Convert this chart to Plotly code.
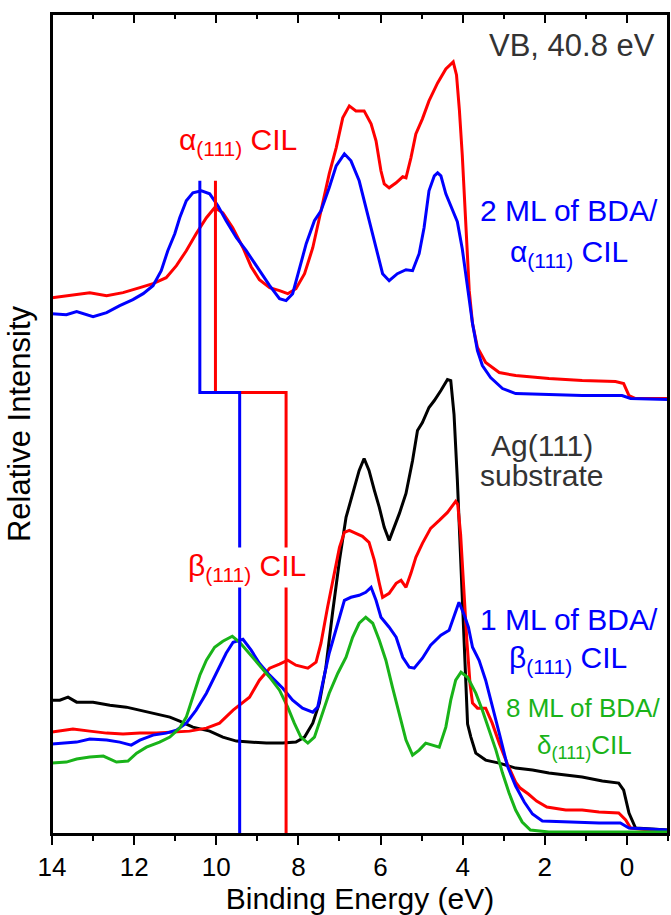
import plotly.graph_objects as go

# ---------------- data (binding energy in eV, relative intensity in a.u.) ----------------
alpha_cil_e = [14.0, 13.49, 13.08, 12.67, 12.27, 11.86, 11.54, 11.22, 10.97, 10.73, 10.49, 10.24, 10.04,
               9.84, 9.60, 9.35, 9.15, 8.95, 8.70, 8.46, 8.26, 8.06, 7.85, 7.65, 7.45, 7.25, 7.08, 6.92,
               6.76, 6.60, 6.40, 6.23, 6.11, 5.99, 5.91, 5.79, 5.62, 5.46, 5.38, 5.26, 5.14, 4.98, 4.82,
               4.61, 4.41, 4.23, 4.15, 4.08, 4.01, 3.94, 3.88, 3.84, 3.76, 3.64, 3.44, 3.11, 2.71, 1.90,
               1.09, 0.28, 0.08, -0.05, -0.21, -1.0]
alpha_cil_i = [5.37, 5.40, 5.42, 5.39, 5.42, 5.47, 5.51, 5.57, 5.69, 5.84, 6.01, 6.17, 6.27,
               6.22, 6.07, 5.87, 5.68, 5.55, 5.47, 5.44, 5.41, 5.46, 5.61, 5.87, 6.24, 6.61, 6.87, 7.17,
               7.29, 7.24, 7.24, 7.11, 6.94, 6.64, 6.51, 6.47, 6.52, 6.58, 6.57, 6.77, 7.01, 7.16, 7.34,
               7.52, 7.66, 7.73, 7.60, 7.25, 6.80, 6.25, 5.70, 5.44, 5.11, 4.87, 4.72, 4.62, 4.59, 4.56,
               4.54, 4.53, 4.51, 4.39, 4.36, 4.36]

bda2_alpha_e = [14.0, 13.65, 13.40, 13.0, 12.67, 12.35, 12.03, 11.78, 11.54, 11.34, 11.18, 11.01, 10.89,
                10.73, 10.57, 10.36, 10.16, 9.96, 9.76, 9.51, 9.27, 9.05, 8.95, 8.70, 8.46, 8.30, 8.14,
                7.98, 7.81, 7.61, 7.45, 7.25, 7.08, 6.88, 6.72, 6.52, 6.32, 6.11, 5.95, 5.79, 5.59, 5.38,
                5.22, 5.06, 4.94, 4.82, 4.69, 4.61, 4.53, 4.41, 4.25, 4.13, 4.01, 3.88, 3.76, 3.64, 3.52,
                3.32, 3.03, 2.71, 1.90, 1.09, 0.12, -0.09, -1.0]
bda2_alpha_i = [5.21, 5.20, 5.23, 5.18, 5.22, 5.29, 5.35, 5.41, 5.49, 5.64, 5.84, 6.01, 6.17,
                6.34, 6.42, 6.44, 6.41, 6.29, 6.14, 5.97, 5.84, 5.70, 5.64, 5.49, 5.36, 5.34, 5.41,
                5.64, 5.91, 6.14, 6.24, 6.47, 6.69, 6.81, 6.74, 6.54, 6.21, 5.87, 5.61, 5.54, 5.61, 5.65,
                5.64, 5.81, 6.07, 6.44, 6.59, 6.62, 6.59, 6.41, 6.24, 6.13, 5.86, 5.49, 5.11, 4.84, 4.69,
                4.57, 4.46, 4.41, 4.40, 4.39, 4.39, 4.36, 4.35]

ag111_e = [14.0, 13.81, 13.61, 13.40, 13.0, 12.59, 12.19, 11.86, 11.54, 11.13, 10.89, 10.57, 10.16, 9.84,
           9.51, 9.11, 8.78, 8.38, 8.06, 7.85, 7.65, 7.49, 7.33, 7.17, 7.00, 6.84, 6.68, 6.52, 6.40, 6.28,
           6.15, 6.03, 5.91, 5.79, 5.67, 5.54, 5.38, 5.22, 5.10, 4.98, 4.82, 4.69, 4.53, 4.37, 4.29, 4.21,
           4.13, 4.04, 3.96, 3.88, 3.80, 3.68, 3.44, 3.11, 2.71, 2.30, 1.90, 1.49, 1.09, 0.60, 0.20, 0.08,
           -0.05, -0.21, -1.0]
ag111_i = [1.34, 1.34, 1.37, 1.32, 1.32, 1.29, 1.27, 1.24, 1.21, 1.17, 1.13, 1.07, 1.03, 0.97,
           0.93, 0.92, 0.91, 0.91, 0.92, 0.97, 1.11, 1.31, 1.67, 2.21, 2.74, 3.17, 3.41, 3.64, 3.76, 3.64,
           3.44, 3.27, 3.07, 2.94, 3.07, 3.21, 3.41, 3.74, 4.04, 4.12, 4.27, 4.34, 4.44, 4.55, 4.54, 4.20,
           3.55, 2.65, 1.80, 1.10, 0.97, 0.81, 0.74, 0.71, 0.66, 0.64, 0.61, 0.59, 0.57, 0.53, 0.51, 0.44,
           0.21, 0.06, 0.04]

beta_cil_e = [14.0, 13.49, 13.08, 12.67, 12.27, 11.86, 11.46, 11.05, 10.65, 10.24, 9.92, 9.59, 9.35, 9.19,
              8.95, 8.70, 8.46, 8.26, 8.06, 7.77, 7.57, 7.45, 7.29, 7.12, 7.00, 6.88, 6.76, 6.60, 6.44,
              6.28, 6.15, 6.03, 5.95, 5.79, 5.62, 5.50, 5.38, 5.26, 5.14, 4.98, 4.78, 4.57, 4.37, 4.17,
              4.12, 4.05, 3.98, 3.90, 3.82, 3.76, 3.64, 3.44, 3.28, 3.11, 2.91, 2.71, 2.60, 2.40, 2.20,
              1.95, 1.49, 1.09, 0.68, 0.20, 0.03, -0.09, -0.54, -1.0]
beta_cil_i = [1.02, 1.05, 1.03, 1.01, 1.00, 1.01, 1.01, 1.02, 1.03, 1.06, 1.11, 1.24, 1.32, 1.37,
              1.54, 1.66, 1.70, 1.74, 1.69, 1.66, 1.72, 1.91, 2.27, 2.64, 2.87, 3.02, 3.04, 3.01, 2.98,
              2.92, 2.74, 2.51, 2.37, 2.41, 2.51, 2.54, 2.47, 2.61, 2.77, 2.91, 3.06, 3.14, 3.22, 3.33,
              3.30, 3.00, 2.50, 1.95, 1.50, 1.31, 1.26, 1.26, 1.11, 0.91, 0.70, 0.52, 0.46, 0.40, 0.33,
              0.27, 0.24, 0.24, 0.22, 0.21, 0.14, 0.06, 0.04, 0.03]

bda1_beta_e = [14.0, 13.65, 13.40, 13.08, 12.67, 12.35, 12.07, 11.86, 11.54, 11.22, 10.97, 10.73, 10.49,
               10.24, 10.00, 9.76, 9.59, 9.35, 9.15, 8.95, 8.70, 8.38, 8.14, 7.90, 7.65, 7.53, 7.41, 7.25,
               7.04, 6.88, 6.72, 6.52, 6.36, 6.23, 6.11, 5.99, 5.79, 5.62, 5.46, 5.30, 5.18, 4.98, 4.78,
               4.53, 4.33, 4.21, 4.09, 3.96, 3.86, 3.76, 3.60, 3.44, 3.28, 3.11, 2.91, 2.71, 2.50, 2.30,
               2.06, 1.49, 0.68, 0.16, -0.05, -1.0]
bda1_beta_i = [0.90, 0.91, 0.92, 0.95, 0.94, 0.92, 0.89, 0.94, 0.99, 1.01, 1.04, 1.11, 1.24,
               1.41, 1.61, 1.81, 1.92, 1.95, 1.84, 1.71, 1.59, 1.46, 1.34, 1.26, 1.22, 1.27, 1.51, 1.81,
               2.11, 2.34, 2.37, 2.39, 2.42, 2.47, 2.34, 2.17, 2.07, 1.97, 1.77, 1.67, 1.66, 1.76, 1.89,
               1.99, 2.04, 2.19, 2.32, 2.19, 2.07, 1.87, 1.74, 1.54, 1.27, 1.01, 0.68, 0.48, 0.32, 0.20,
               0.13, 0.12, 0.11, 0.11, 0.06, 0.04]

bda8_delta_e = [14.0, 13.65, 13.40, 13.08, 12.75, 12.43, 12.15, 11.94, 11.70, 11.38, 11.13, 10.89, 10.73,
                10.57, 10.40, 10.24, 10.04, 9.84, 9.61, 9.43, 9.19, 8.95, 8.70, 8.46, 8.26, 8.10, 7.94,
                7.77, 7.61, 7.45, 7.25, 7.04, 6.84, 6.68, 6.52, 6.36, 6.19, 6.03, 5.87, 5.71, 5.54, 5.38,
                5.22, 5.06, 4.90, 4.74, 4.57, 4.41, 4.29, 4.17, 4.04, 3.88, 3.68, 3.52, 3.36, 3.19, 3.03,
                2.87, 2.71, 2.55, 2.35, 1.90, -1.0]
bda8_delta_i = [0.71, 0.72, 0.75, 0.77, 0.78, 0.72, 0.73, 0.81, 0.87, 0.92, 0.97, 1.06, 1.17,
                1.37, 1.59, 1.74, 1.87, 1.93, 1.98, 1.92, 1.80, 1.69, 1.57, 1.44, 1.27, 1.11, 0.97,
                0.91, 0.97, 1.17, 1.41, 1.61, 1.77, 1.97, 2.11, 2.17, 2.11, 1.94, 1.74, 1.47, 1.21, 0.94,
                0.79, 0.84, 0.91, 0.89, 0.87, 1.07, 1.34, 1.54, 1.62, 1.57, 1.41, 1.24, 1.04, 0.84, 0.61,
                0.41, 0.24, 0.12, 0.04, 0.02, 0.02]

# CIL position markers (step lines linking the two panels)
alpha_marker_e = [10.02, 10.02, 8.30, 8.30]
alpha_marker_i = [6.54, 4.42, 4.42, 0.0]
bda_marker_e = [10.40, 10.40, 9.43, 9.43]
bda_marker_i = [6.54, 4.42, 4.42, 0.0]

x_range = [14, -1]
y_range = [0, 8.21]
x_tickvals = [14, 12, 10, 8, 6, 4, 2, 0]

RED = "#ff0000"
BLUE = "#0000ff"
GREEN = "#19b319"
BLACK = "#000000"
FONT = "Liberation Sans, Arial, sans-serif"

fig = go.Figure()

def add_line(x, y, color, width=3, xaxis="x"):
    fig.add_trace(go.Scatter(x=x, y=y, mode="lines", line=dict(color=color, width=width),
                             xaxis=xaxis, showlegend=False, hoverinfo="skip"))

add_line(ag111_e, ag111_i, BLACK)
add_line(beta_cil_e, beta_cil_i, RED)
add_line(bda1_beta_e, bda1_beta_i, BLUE)
add_line(bda8_delta_e, bda8_delta_i, GREEN)
add_line(alpha_cil_e, alpha_cil_i, RED)
add_line(bda2_alpha_e, bda2_alpha_i, BLUE)
add_line(alpha_marker_e, alpha_marker_i, RED, xaxis="x2")
add_line(bda_marker_e, bda_marker_i, BLUE, xaxis="x2")

def ann(text, x, y, color, size, xanchor="center", bg=None):
    d = dict(text=text, x=x, y=y, xref="x", yref="y", showarrow=False,
             font=dict(family=FONT, size=size, color=color), xanchor=xanchor, yanchor="middle")
    if bg:
        d.update(bgcolor=bg, borderpad=1)
    fig.add_annotation(**d)

sub = "<sub>(111)</sub>"
ann("VB, 40.8 eV", -0.72, 7.89, "#333333", 31, xanchor="right")
ann("α" + sub + " CIL", 9.48, 6.93, RED, 30)
ann("2 ML of BDA/", 1.41, 6.245, BLUE, 30)
ann("α" + sub + " CIL", 1.40, 5.81, BLUE, 30)
ann("Ag(111)", 2.06, 3.89, "#333333", 30)
ann("substrate", 2.07, 3.59, "#333333", 30)
ann("β" + sub + " CIL", 9.26, 2.67, RED, 30, bg="white")
ann("1 ML of BDA/", 1.40, 2.15, BLUE, 30)
ann("β" + sub + " CIL", 1.44, 1.75, BLUE, 30)
ann("8 ML of BDA/", 1.06, 1.26, GREEN, 26)
ann("δ" + sub + "CIL", 1.04, 0.88, GREEN, 26)

# plot frame
fig.add_shape(type="rect", xref="paper", yref="paper", x0=0, x1=1, y0=0, y1=1,
              line=dict(color="black", width=2), layer="above")

fig.update_layout(
    width=671, height=915,
    margin=dict(l=52, r=3, t=14, b=81),
    paper_bgcolor="white", plot_bgcolor="white",
    font=dict(family=FONT, color="black"),
    xaxis=dict(range=x_range, tickvals=x_tickvals, ticks="outside", ticklen=9, tickwidth=1.5,
               tickcolor="black", showline=True, linecolor="black", linewidth=1.5, mirror=True,
               showgrid=False, zeroline=False, tickfont=dict(size=26, family=FONT), automargin=False,
               minor=dict(dtick=1, tick0=0, ticks="outside", ticklen=5, tickwidth=1.5, tickcolor="black",
                          showgrid=False),
               title=dict(text="Binding Energy (eV)", font=dict(size=30, family=FONT), standoff=4)),
    xaxis2=dict(range=x_range, overlaying="x", anchor="y", side="top", tickvals=x_tickvals,
                ticks="inside", ticklen=9, tickwidth=2, tickcolor="black", showticklabels=False,
                showgrid=False, zeroline=False, showline=True, linecolor="black", linewidth=2,
                automargin=False,
                minor=dict(dtick=1, tick0=0, ticks="inside", ticklen=5, tickwidth=2, tickcolor="black",
                           showgrid=False)),
    yaxis=dict(range=y_range, showticklabels=False, ticks="", showgrid=False, zeroline=False,
               showline=True, linecolor="black", linewidth=1.5, mirror=True, automargin=False,
               title=dict(text="Relative Intensity", font=dict(size=31, family=FONT), standoff=10)),
)

fig.write_html("out.html", config={"displayModeBar": False},
               post_script="document.body.style.margin='0';document.body.style.overflow='hidden';")
